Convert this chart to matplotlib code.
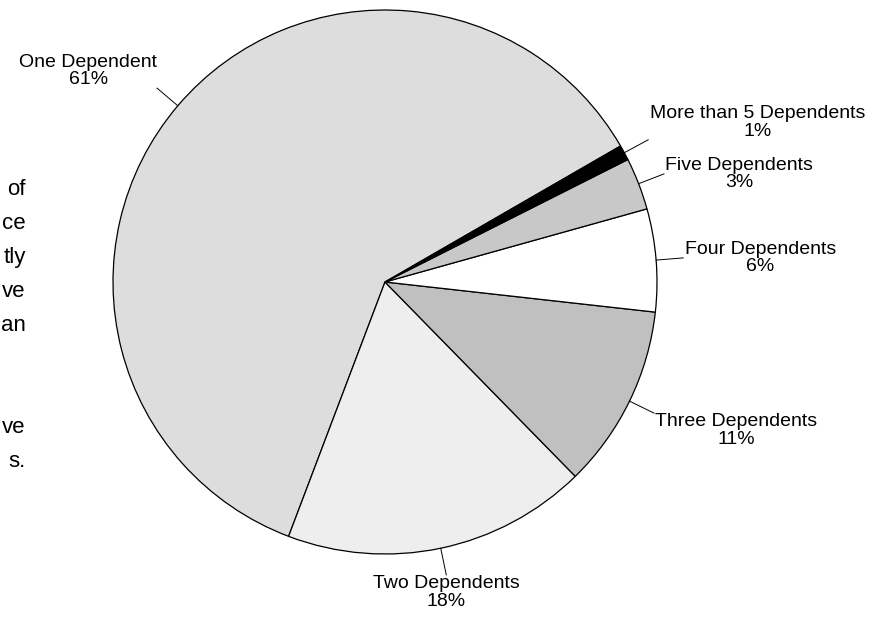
import numpy as np
import matplotlib.pyplot as plt

plt.rcParams['font.family'] = ['Liberation Sans', 'DejaVu Sans']

# shares (percent)
categories = ['One Dependent', 'Two Dependents', 'Three Dependents',
              'Four Dependents', 'Five Dependents', 'More than 5 Dependents']
shares = [60.9, 18.1, 10.9, 6.1, 3.1, 0.9]
colors = ['#DDDDDD', '#EEEEEE', '#C0C0C0', '#FFFFFF', '#C8C8C8', '#000000']

# clipped paragraph text at the left edge
side_text = ['of', 'ce', 'tly', 've', 'an', '', '', 've', 's.']

W, H = 886, 622
fig = plt.figure(figsize=(W / 100, H / 100), dpi=100)

# pie axes: centre (385, 282) px, radius 272 px
cx, cy, r = 385, 282, 272
ax = fig.add_axes([(cx - r) / W, (H - cy - r) / H, 2 * r / W, 2 * r / H])
wedges, _ = ax.pie(shares, colors=colors, startangle=30, counterclock=True,
                   radius=1,
                   wedgeprops={'edgecolor': 'black', 'linewidth': 0.9})
ax.set_xlim(-1, 1)
ax.set_ylim(-1, 1)
ax.axis('off')

# labels with short radial leader lines
for w, name, val in zip(wedges, categories, shares):
    mid = np.deg2rad((w.theta1 + w.theta2) / 2)
    c, s = np.cos(mid), np.sin(mid)
    ax.plot([c, 1.1 * c], [s, 1.1 * s], color='black', lw=0.7,
            clip_on=False)
    if abs(c) < 0.3:
        ha = 'center'
    elif c > 0:
        ha = 'left'
    else:
        ha = 'right'
    if s > 0.4:
        va = 'bottom'
    elif s < -0.4:
        va = 'top'
    else:
        va = 'center'
    ax.text(1.1 * c + (0.005 if ha == 'left' else 0), 1.1 * s,
            '{}\n{:.0f}%'.format(name, val), ha=ha, va=va,
            multialignment='center', fontsize=14, linespacing=1.05,
            clip_on=False)

for i, t in enumerate(side_text):
    if t:
        fig.text(25.5 / W, 1 - (195 + 34 * i) / H, t, ha='right',
                 va='baseline', fontsize=16)

fig.savefig('out.png', dpi=100)
